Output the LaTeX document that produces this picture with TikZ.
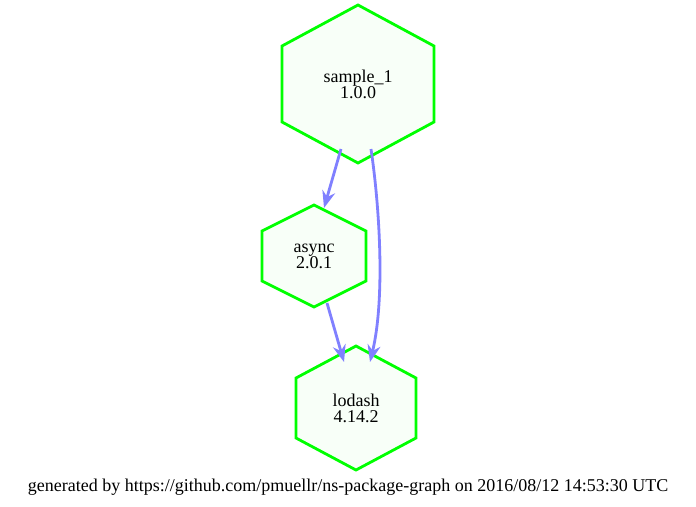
\documentclass[tikz,border=0pt]{standalone}
\usepackage{fontspec}
\setmainfont{Liberation Serif}
\usetikzlibrary{arrows.meta}
\definecolor{hexline}{RGB}{0,255,0}
\definecolor{hexfill}{RGB}{248,255,248}
\definecolor{edgec}{RGB}{128,128,255}
\tikzset{
  hexbox/.style={draw=hexline,fill=hexfill,line width=2.8pt,line join=miter},
  lbl/.style={align=center,font=\fontsize{18pt}{16pt}\selectfont,inner sep=0pt},
  dep/.style={draw=edgec,line width=2.8pt,-{Stealth[length=17pt,width=13pt]}}
}
\newcommand{\hexat}[5]{% cx cy halfw halfh sidedy
  \draw[hexbox] (#1,#2-#4) -- (#1+#3,#2-#5) -- (#1+#3,#2+#5) -- (#1,#2+#4) -- (#1-#3,#2+#5) -- (#1-#3,#2-#5) -- cycle;}
\begin{document}
\begin{tikzpicture}[x=1pt,y=-1pt]
\useasboundingbox[fill=white] (0,0) rectangle (696,506);
\hexat{358}{84}{76}{79}{38}
\hexat{314}{256}{52}{51}{25}
\hexat{356}{408}{60}{62}{30}
\node[lbl] (s) at (358,84) {sample\_1\\1.0.0};
\node[lbl] (a) at (314,256) {async\\2.0.1};
\node[lbl] (l) at (356,408) {lodash\\4.14.2};
\coordinate (sA) at (341,149);
\coordinate (aT) at (324,208);
\coordinate (sB) at (371,149);
\coordinate (lT) at (370,362);
\coordinate (aB) at (327,303);
\coordinate (lT2) at (344,362);
\draw[dep] (sA) -- (aT);
\draw[dep] (sB) .. controls (380,210) and (385,300) .. (lT);
\draw[dep] (aB) -- (lT2);
\node[lbl] (foot) at (348,487) {generated by https://github.com/pmuellr/ns-package-graph on 2016/08/12 14:53:30 UTC};
\end{tikzpicture}
\end{document}
